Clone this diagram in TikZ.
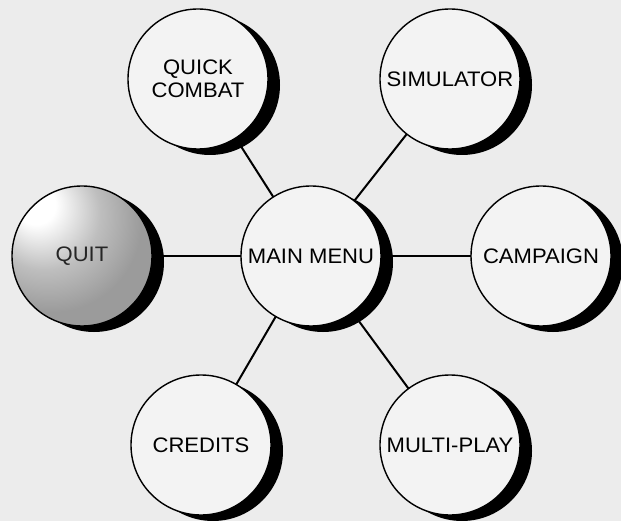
\documentclass[tikz,border=0pt]{standalone}
\usepackage{fontspec}
\setmainfont[FakeStretch=1.05]{Liberation Sans}
\usetikzlibrary{shadows,backgrounds}
\definecolor{bg}{RGB}{236,236,236}
\definecolor{disc}{RGB}{243,243,243}
\definecolor{qmid}{RGB}{155,155,155}
\definecolor{qedge}{RGB}{120,120,120}
\pgfdeclareradialshading{quitshade}{\pgfpoint{-18bp}{20bp}}{%
  color(0bp)=(white); color(7bp)=(white); color(20bp)=(qmid!65!white);
  color(32bp)=(qmid); color(62bp)=(qmid); color(80bp)=(qedge)}
\tikzset{
  menu/.style={circle, draw=black, line width=1.4pt, fill=disc, minimum size=140pt, inner sep=0pt,
    align=center, font=\fontsize{21}{23}\selectfont,
    drop shadow={shadow xshift=12pt, shadow yshift=-6pt, fill=black, opacity=1}},
  quitball/.style={menu, shading=quitshade, text=black!85},
  link/.style={line width=2pt, black}
}
\begin{document}
\begin{tikzpicture}[x=1pt,y=-1pt]
\begin{pgfonlayer}{background}
\fill[bg] (0,0) rectangle (621,521);
\end{pgfonlayer}
\useasboundingbox (0,0) rectangle (621,521);
\node[menu] (main) at (311,256) {MAIN MENU};
\node[menu] (qc) at (198,79) {QUICK\\COMBAT};
\node[menu] (sim) at (450,79) {SIMULATOR};
\node[quitball] (quit) at (82,256) {QUIT};
\node[menu] (camp) at (541,256) {CAMPAIGN};
\node[menu] (cred) at (201,445) {CREDITS};
\node[menu] (multi) at (450,445) {MULTI-PLAY};
\begin{pgfonlayer}{background}
\draw[link] (main.center) -- (qc.center);
\draw[link] (main.center) -- (sim.center);
\draw[link] (main.center) -- (quit.center);
\draw[link] (main.center) -- (camp.center);
\draw[link] (main.center) -- (cred.center);
\draw[link] (main.center) -- (multi.center);
\end{pgfonlayer}
\end{tikzpicture}
\end{document}
